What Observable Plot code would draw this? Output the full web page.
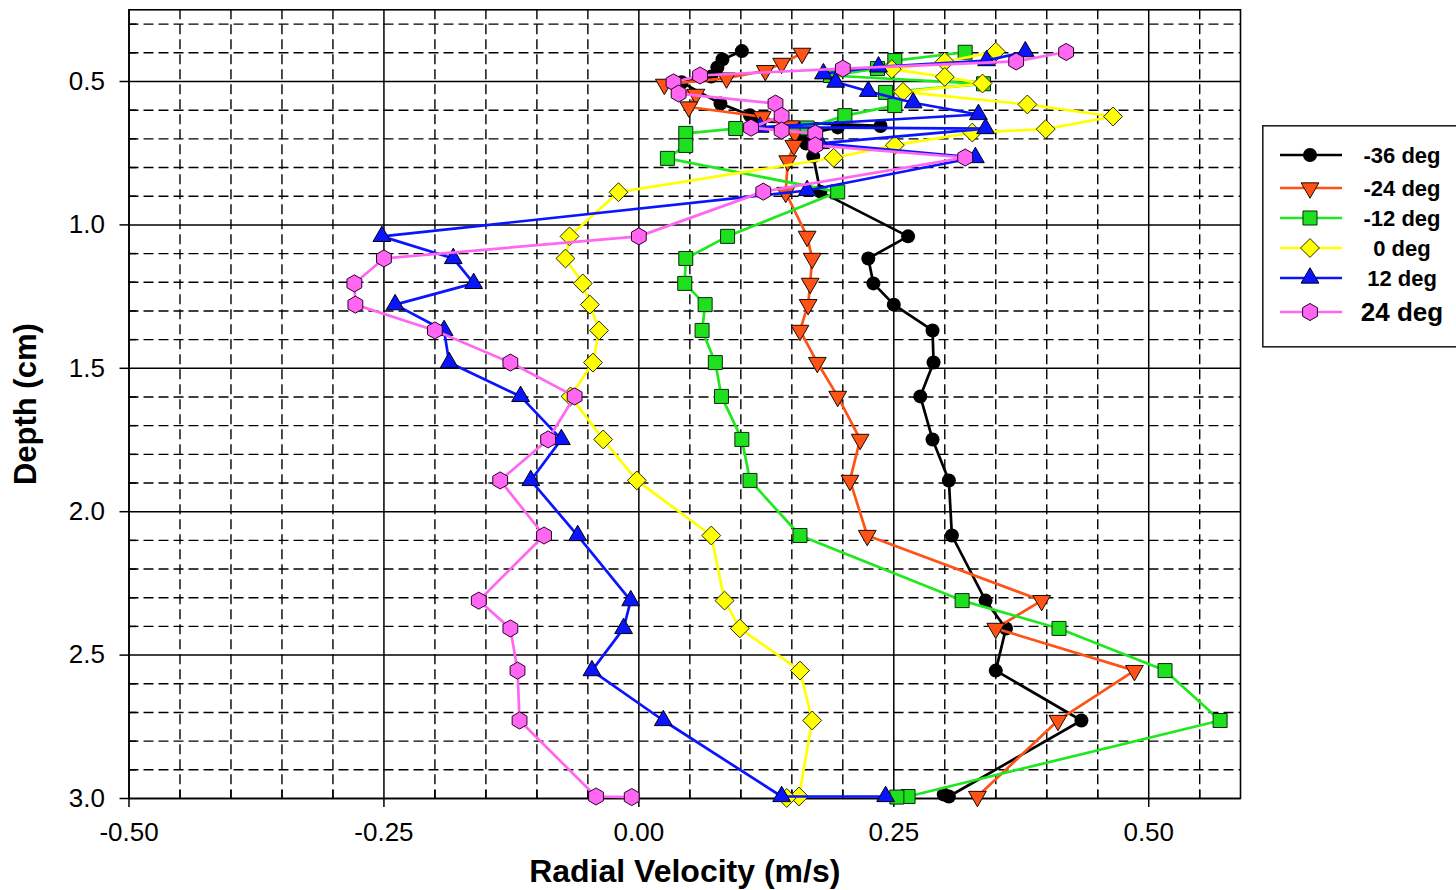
<!DOCTYPE html>
<html>
<head>
<meta charset="utf-8">
<script src="https://cdn.jsdelivr.net/npm/d3@7"></script>
<script src="https://cdn.jsdelivr.net/npm/@observablehq/plot@0.6"></script>
<style>
  html, body { margin: 0; padding: 0; background: #fff; overflow: hidden; }
  #wrap { position: relative; width: 1456px; height: 890px; overflow: hidden; }
  #legend { position: absolute; left: 1262px; top: 125px; }
</style>
</head>
<body>
<div id="wrap"></div>
<script>
// ---------------- data ----------------
const seriesNames = ["-36 deg", "-24 deg", "-12 deg", "0 deg", "12 deg", "24 deg"];

const depthM36 = [0.394, 0.423, 0.451, 0.483, 0.503, 0.577, 0.618, 0.639, 0.655, 0.660, 0.688, 0.716, 0.761, 0.884, 1.040, 1.117, 1.204, 1.278, 1.368, 1.480, 1.598, 1.748, 1.891, 2.083, 2.310, 2.407, 2.554, 2.728, 2.993, 2.986];
const velM36   = [0.101, 0.082, 0.077, 0.071, 0.042, 0.080, 0.109, 0.119, 0.237, 0.195, 0.158, 0.164, 0.171, 0.178, 0.264, 0.225, 0.230, 0.250, 0.288, 0.289, 0.276, 0.288, 0.304, 0.307, 0.340, 0.360, 0.350, 0.434, 0.304, 0.299];

const depthM24 = [0.402, 0.437, 0.462, 0.488, 0.510, 0.545, 0.589, 0.623, 0.655, 0.680, 0.723, 0.777, 0.887, 1.040, 1.117, 1.204, 1.278, 1.368, 1.480, 1.598, 1.748, 1.891, 2.083, 2.310, 2.407, 2.554, 2.728, 2.993];
const velM24   = [0.160, 0.140, 0.124, 0.086, 0.025, 0.056, 0.049, 0.121, 0.149, 0.153, 0.152, 0.146, 0.144, 0.165, 0.170, 0.168, 0.166, 0.158, 0.175, 0.195, 0.217, 0.207, 0.224, 0.395, 0.350, 0.486, 0.411, 0.332];

const depthM12 = [0.398, 0.427, 0.455, 0.479, 0.508, 0.538, 0.584, 0.619, 0.662, 0.664, 0.681, 0.723, 0.768, 0.885, 1.040, 1.117, 1.204, 1.278, 1.368, 1.480, 1.598, 1.748, 1.891, 2.083, 2.310, 2.407, 2.554, 2.728, 2.993, 2.995];
const velM12   = [0.320, 0.251, 0.234, 0.188, 0.338, 0.242, 0.251, 0.202, 0.165, 0.095, 0.046, 0.046, 0.028, 0.195, 0.087, 0.046, 0.045, 0.065, 0.062, 0.075, 0.081, 0.101, 0.109, 0.158, 0.317, 0.412, 0.516, 0.570, 0.264, 0.253];

const depthP0 = [0.396, 0.431, 0.457, 0.484, 0.507, 0.536, 0.580, 0.622, 0.666, 0.678, 0.722, 0.766, 0.886, 1.040, 1.117, 1.204, 1.278, 1.368, 1.480, 1.598, 1.748, 1.891, 2.083, 2.310, 2.407, 2.554, 2.728, 2.993, 2.998];
const velP0   = [0.350, 0.300, 0.248, 0.300, 0.337, 0.259, 0.381, 0.465, 0.399, 0.327, 0.251, 0.191, -0.020, -0.068, -0.072, -0.055, -0.048, -0.039, -0.045, -0.067, -0.035, -0.002, 0.071, 0.084, 0.099, 0.158, 0.170, 0.157, 0.145];

const depthP12 = [0.396, 0.427, 0.449, 0.473, 0.502, 0.534, 0.574, 0.615, 0.659, 0.664, 0.716, 0.765, 0.880, 1.040, 1.117, 1.204, 1.278, 1.368, 1.480, 1.598, 1.748, 1.891, 2.083, 2.310, 2.407, 2.554, 2.728, 2.993, 2.993];
const velP12   = [0.379, 0.341, 0.235, 0.181, 0.193, 0.225, 0.269, 0.333, 0.119, 0.340, 0.178, 0.330, 0.165, -0.252, -0.182, -0.162, -0.239, -0.191, -0.186, -0.116, -0.076, -0.106, -0.060, -0.008, -0.015, -0.046, 0.024, 0.140, 0.242];

const depthP24 = [0.397, 0.430, 0.455, 0.479, 0.503, 0.542, 0.577, 0.620, 0.661, 0.671, 0.681, 0.723, 0.765, 0.884, 1.040, 1.117, 1.204, 1.278, 1.368, 1.480, 1.598, 1.748, 1.891, 2.083, 2.310, 2.407, 2.554, 2.728, 2.993, 2.995];
const velP24   = [0.419, 0.370, 0.200, 0.060, 0.034, 0.039, 0.134, 0.140, 0.110, 0.140, 0.173, 0.173, 0.320, 0.122, 0.000, -0.250, -0.279, -0.278, -0.200, -0.126, -0.063, -0.089, -0.136, -0.093, -0.157, -0.126, -0.119, -0.117, -0.042, -0.007];

const xMajorTicks = [-0.5, -0.25, 0, 0.25, 0.5];
const xMinorTicks = [-0.45, -0.4, -0.35, -0.3, -0.2, -0.15, -0.1, -0.05, 0.05, 0.1, 0.15, 0.2, 0.3, 0.35, 0.4, 0.45, 0.55];
const yMajorTicks = [0.5, 1.0, 1.5, 2.0, 2.5, 3.0];
const yMinorTicks = [0.3, 0.4, 0.6, 0.7, 0.8, 0.9, 1.1, 1.2, 1.3, 1.4, 1.6, 1.7, 1.8, 1.9, 2.1, 2.2, 2.3, 2.4, 2.6, 2.7, 2.8, 2.9];

const xLabel = "Radial Velocity (m/s)";
const yLabel = "Depth (cm)";

// ---------------- symbols ----------------
const SQ3 = Math.sqrt(3);
const triangleDown = {
  draw(ctx, size) {
    const y = -Math.sqrt(size / (SQ3 * 3));
    ctx.moveTo(0, -y * 2);
    ctx.lineTo(-SQ3 * y, y);
    ctx.lineTo(SQ3 * y, y);
    ctx.closePath();
  }
};
const hexagon = {
  draw(ctx, size) {
    const rx = Math.sqrt(size / Math.PI), ry = rx * 2 / SQ3, hy = ry / 2;
    ctx.moveTo(0, ry); ctx.lineTo(rx, hy); ctx.lineTo(rx, -hy);
    ctx.lineTo(0, -ry); ctx.lineTo(-rx, -hy); ctx.lineTo(-rx, hy); ctx.closePath();
  }
};

const depthArrays = [depthM36, depthM24, depthM12, depthP0, depthP12, depthP24];
const velArrays = [velM36, velM24, velM12, velP0, velP12, velP24];
const styles = [
  {line: "#000000", fill: "#000000", stroke: "none",    symbol: "circle",      legendSymbol: d3.symbolCircle, r: 7},
  {line: "#ff5216", fill: "#ff5216", stroke: "#1a0a00", symbol: triangleDown,  legendSymbol: triangleDown,   r: 6.6},
  {line: "#1fe81f", fill: "#1fe01f", stroke: "#0a2a0a", symbol: "square",      legendSymbol: d3.symbolSquare, r: 7.9},
  {line: "#ffff00", fill: "#ffff00", stroke: "#2a2a00", symbol: "diamond2",    legendSymbol: d3.symbolDiamond2, r: 8.5},
  {line: "#0a14ff", fill: "#0a14ff", stroke: "#000010", symbol: "triangle",    legendSymbol: d3.symbolTriangle, r: 6.6},
  {line: "#ff66f2", fill: "#ff66f2", stroke: "#2a002a", symbol: hexagon,       legendSymbol: hexagon,        r: 7.4}
];

const series = seriesNames.map((name, i) => ({
  name,
  style: styles[i],
  rows: depthArrays[i].map((d, j) => ({d, v: velArrays[i][j], name}))
}));

// ---------------- chart ----------------
const W = 1456, H = 890;
const mL = 128.5, mR = 216, mT = 9.3, mB = 92;
const innerW = W - mL - mR, innerH = H - mT - mB;
const font = '"Liberation Sans", Arial, Helvetica, sans-serif';

const seriesMarks = series.flatMap(s => [
  Plot.line(s.rows, {x: "v", y: "d", stroke: s.style.line, strokeWidth: 2.7}),
  Plot.dot(s.rows, {x: "v", y: "d", symbol: s.style.symbol, r: s.style.r, fill: s.style.fill,
                    stroke: s.style.stroke, strokeWidth: 1})
]);

const chart = Plot.plot({
  width: W, height: H,
  marginLeft: mL, marginRight: mR, marginTop: mT, marginBottom: mB,
  style: {fontFamily: font, color: "#000", background: "#fff", overflow: "visible"},
  x: {domain: [-0.5, 0.59]},
  y: {domain: [0.25, 3.0], reverse: true},
  marks: [
    Plot.ruleX(xMinorTicks, {stroke: "#000", strokeWidth: 1.4, strokeDasharray: "10,5"}),
    Plot.ruleY(yMinorTicks, {stroke: "#000", strokeWidth: 1.4, strokeDasharray: "10,5"}),
    Plot.ruleX(xMajorTicks, {stroke: "#000", strokeWidth: 1.5}),
    Plot.ruleY(yMajorTicks, {stroke: "#000", strokeWidth: 1.5}),
    Plot.tickX(xMinorTicks, {stroke: "#000", strokeWidth: 1.5, insetTop: innerH - 8}),
    Plot.tickY(yMinorTicks, {stroke: "#000", strokeWidth: 1.5, insetRight: innerW - 8}),
    Plot.frame({stroke: "#000", strokeWidth: 1.6}),
    Plot.axisX(xMajorTicks, {tickSize: 9, tickPadding: 15, tickFormat: d => d.toFixed(2),
                             fontSize: 26, label: null, strokeWidth: 1.5}),
    Plot.axisX([], {tickSize: 0, label: xLabel, labelArrow: "none", labelAnchor: "center", labelOffset: 83,
                    fontSize: 32, fontWeight: "bold"}),
    Plot.axisY(yMajorTicks, {tickSize: 9, tickPadding: 15, tickFormat: d => d.toFixed(1),
                             fontSize: 26, label: null, strokeWidth: 1.5}),
    Plot.axisY([], {tickSize: 0, label: yLabel, labelArrow: "none", labelAnchor: "center", labelOffset: 115,
                    fontSize: 31, fontWeight: "bold"}),
    ...seriesMarks
  ]
});
document.getElementById("wrap").appendChild(chart);

// ---------------- legend (HTML-positioned SVG) ----------------
const rowY = [30, 63, 93, 123, 153, 187];
const labelSize = [22, 22, 22, 22, 22, 26];
const leg = d3.create("svg").attr("id", "legend").attr("width", 230).attr("height", 224)
  .style("font-family", font);
leg.append("rect").attr("x", 0.8).attr("y", 0.8).attr("width", 260).attr("height", 221)
  .attr("fill", "#fff").attr("stroke", "#222").attr("stroke-width", 1.6);
series.forEach((s, i) => {
  const g = leg.append("g").attr("transform", `translate(0,${rowY[i]})`);
  g.append("line").attr("x1", 18).attr("x2", 80).attr("y1", 0).attr("y2", 0)
    .attr("stroke", s.style.line).attr("stroke-width", 2.7);
  g.append("path").attr("transform", "translate(48,0)")
    .attr("d", d3.symbol(s.style.legendSymbol, Math.PI * s.style.r * s.style.r)())
    .attr("fill", s.style.fill).attr("stroke", s.style.stroke).attr("stroke-width", 1);
  g.append("text").attr("x", 140).attr("y", 0).attr("dy", "0.35em")
    .attr("text-anchor", "middle").attr("font-weight", "bold")
    .attr("font-size", labelSize[i]).text(s.name);
});
document.getElementById("wrap").appendChild(leg.node());
</script>
</body>
</html>
